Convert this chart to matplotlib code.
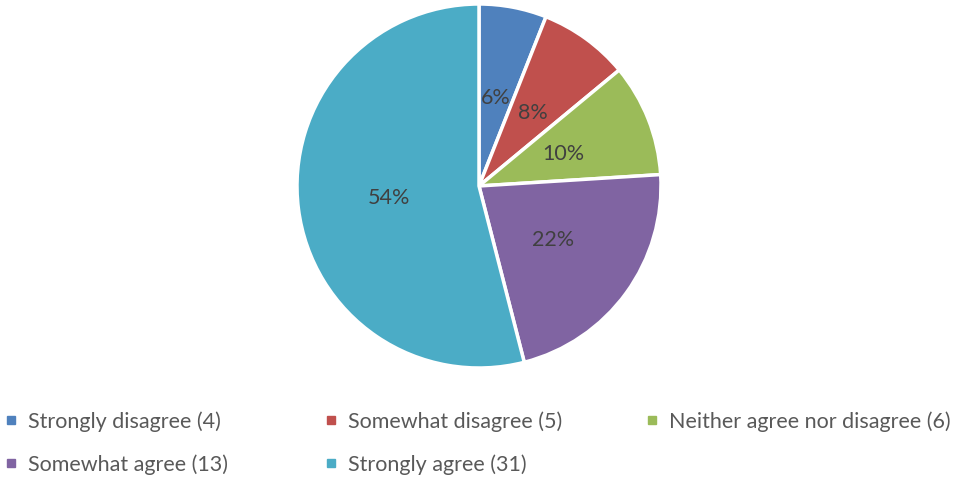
import matplotlib.pyplot as plt
from matplotlib.lines import Line2D

# survey responses
labels = ['Strongly disagree', 'Somewhat disagree', 'Neither agree nor disagree',
          'Somewhat agree', 'Strongly agree']
counts = [4, 5, 6, 13, 31]
percents = [6, 8, 10, 22, 54]
colors = ['#4F81BD', '#C0504D', '#9BBB59', '#8064A2', '#4BACC6']

plt.rcParams['font.family'] = ['Lato', 'DejaVu Sans']

fig = plt.figure(figsize=(9.62, 4.81), dpi=100)
ax = fig.add_axes([297 / 962, 1 - 369 / 481, 364 / 962, 364 / 481])

wedges, texts, autotexts = ax.pie(
    percents, colors=colors, startangle=90, counterclock=False,
    autopct=lambda p: '%d%%' % round(p), pctdistance=0.5,
    wedgeprops=dict(edgecolor='white', linewidth=2.5),
    textprops=dict(color='#404040', fontsize=15.5))
ax.set_xlim(-1.0, 1.0)
ax.set_ylim(-1.0, 1.0)
ax.set_aspect('equal')

# legend laid out in evenly spaced columns
col_x = [5, 325, 646]
row_y = [422, 465]
for i, (lab, n, c) in enumerate(zip(labels, counts, colors)):
    h = Line2D([], [], marker='s', linestyle='none', color=c, markersize=6)
    x = col_x[i % 3] / 962
    y = 1 - row_y[i // 3] / 481
    fig.legend([h], ['%s (%d)' % (lab, n)], loc='center left',
               bbox_to_anchor=(x, y), frameon=False, fontsize=15.5,
               labelcolor='#595959', handlelength=0.6, handletextpad=0.45,
               borderaxespad=0, borderpad=0)

fig.savefig('out.png', dpi=100)
